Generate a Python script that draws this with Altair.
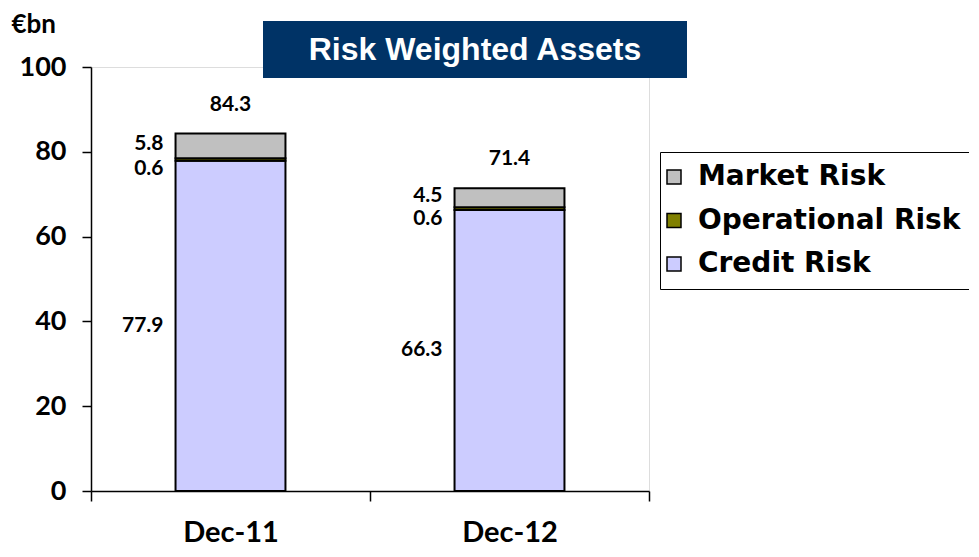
import altair as alt
import pandas as pd

periods = ["Dec-11", "Dec-12"]
credit = [77.9, 66.3]
operational = [0.6, 0.6]
market = [5.8, 4.5]
totals = [84.3, 71.4]
series_order = ["Credit Risk", "Operational Risk", "Market Risk"]
legend_order = ["Market Risk", "Operational Risk", "Credit Risk"]
series_colors = ["#C0C0C0", "#808000", "#CCCCFF"]
title_text = "Risk Weighted Assets"

rows = []
for i, p in enumerate(periods):
    base = 0.0
    for k, (name, vals) in enumerate(zip(series_order, [credit, operational, market])):
        v = vals[i]
        rows.append({"period": p, "series": name, "value": v, "ord": k,
                     "mid": base + v / 2})
        base += v
df = pd.DataFrame(rows)
tot = pd.DataFrame({"period": periods, "total": totals})

FONT = "Lato"
LEG_FONT = "DejaVu Sans"
TITLE_FONT = "Liberation Sans"

xscale = alt.Scale(paddingInner=0, paddingOuter=0)
xenc = alt.X("period:N", sort=periods, scale=xscale,
             axis=alt.Axis(title=None, labelAngle=0, tickBand="extent",
                           tickSize=10, labelPadding=17, labelFont=FONT,
                           labelFontSize=29, labelFontWeight="bold",
                           labelColor="black", domainColor="black",
                           tickColor="black", domainWidth=1.5, tickWidth=1.5))
yscale = alt.Scale(domain=[0, 100], nice=False)

bars = alt.Chart(df).mark_bar(stroke="black", strokeWidth=2,
                              width={"band": 0.394}).encode(
    x=xenc,
    y=alt.Y("value:Q", stack="zero", scale=yscale,
            axis=alt.Axis(values=[0, 20, 40, 60, 80, 100], grid=False,
                          tickSize=9, labelPadding=16, labelFont=FONT,
                          labelFontSize=27, labelFontWeight="bold",
                          labelColor="black", domainColor="black",
                          tickColor="black", domainWidth=1.5, tickWidth=1.5,
                          title="€bn", titleAngle=0, titleX=-80, titleY=-43,
                          titleAlign="left", titleBaseline="middle",
                          titleFont=FONT, titleFontSize=26,
                          titleFontWeight="bold", titleColor="black")),
    fill=alt.Fill("series:N",
                  scale=alt.Scale(domain=legend_order, range=series_colors),
                  legend=alt.Legend(title=None, orient="none", legendX=569,
                                    legendY=85, strokeColor="black",
                                    padding=11, labelFont=LEG_FONT,
                                    labelFontSize=28, labelFontWeight="bold",
                                    labelColor="black", labelLimit=0,
                                    symbolType="square", symbolOffset=-11,
                                    symbolSize=196, symbolStrokeColor="black",
                                    symbolStrokeWidth=1.5, rowPadding=15.5,
                                    labelOffset=10)),
    order=alt.Order("ord:Q"),
)

label_style = dict(font=FONT, fontSize=21, fontWeight="bold", color="black",
                   baseline="middle")

def seg_labels(name, dy):
    return alt.Chart(df).transform_filter(
        alt.datum.series == name
    ).mark_text(align="right", dx=-67, dy=dy, **label_style).encode(
        x=alt.X("period:N", sort=periods, scale=xscale),
        y=alt.Y("mid:Q", scale=yscale),
        text=alt.Text("value:Q", format=".1f"),
    )

credit_lbl = seg_labels("Credit Risk", 0)
op_lbl = seg_labels("Operational Risk", 10)
mk_lbl = seg_labels("Market Risk", -2)

tot_lbl = alt.Chart(tot).mark_text(align="center", dy=-29, **label_style).encode(
    x=alt.X("period:N", sort=periods, scale=xscale),
    y=alt.Y("total:Q", scale=yscale),
    text=alt.Text("total:Q", format=".1f"),
)

tdf = pd.DataFrame({"t": [title_text]})
title_box = alt.Chart(tdf).mark_rect(color="#003366").encode(
    x=alt.value(172), x2=alt.value(596), y=alt.value(-46), y2=alt.value(11))
title_txt = alt.Chart(tdf).mark_text(
    font=TITLE_FONT, fontSize=32, fontWeight="bold", color="white",
    align="center", baseline="middle").encode(
    x=alt.value(384), y=alt.value(-17), text="t:N")

chart = alt.layer(bars, credit_lbl, op_lbl, mk_lbl, tot_lbl, title_box, title_txt).properties(
    width=558, height=424,
    autosize=alt.AutoSizeParams(type="none"),
    padding={"left": 83, "top": 59, "right": 320, "bottom": 58},
).configure_view(stroke=None).configure(background="white")

chart.save("out.html", embed_options={"renderer": "svg", "actions": False})
